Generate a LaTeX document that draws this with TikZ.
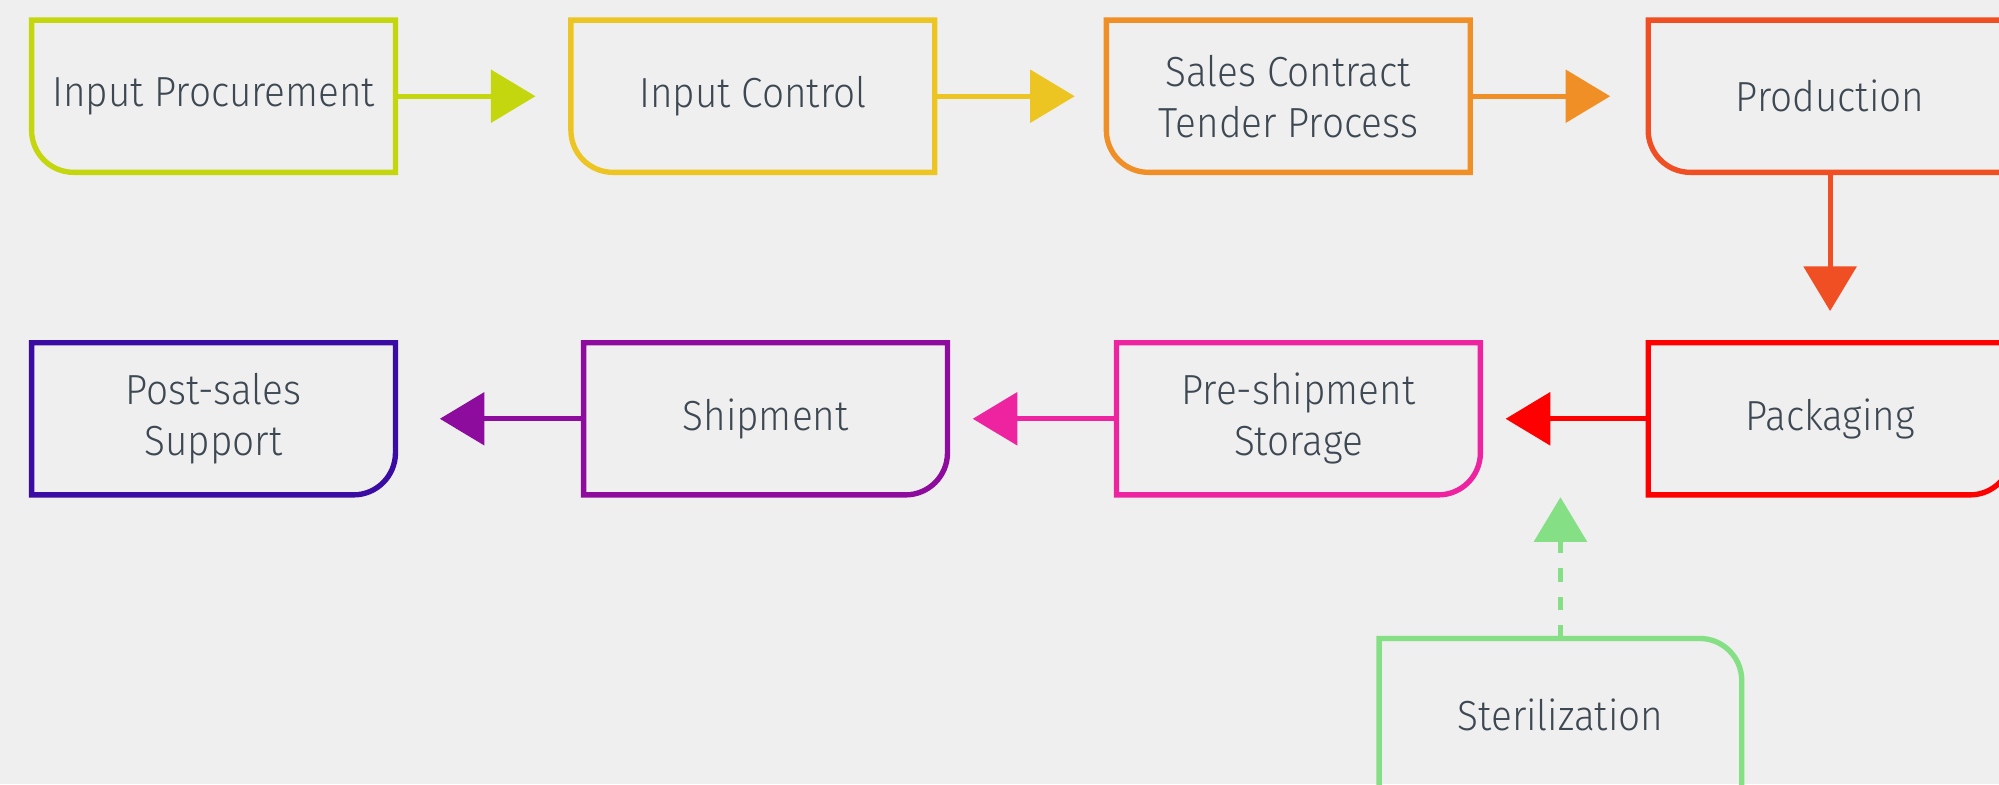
\documentclass[tikz,border=0pt]{standalone}
\usepackage{fontspec}
\setmainfont{Fira Sans}[UprightFont=* Light, FakeStretch=0.92]
\usetikzlibrary{arrows.meta}

\definecolor{paper}{HTML}{EFEFEF}
\definecolor{ink}{HTML}{3D4852}
\definecolor{cLime}{HTML}{C4D60E}
\definecolor{cYellow}{HTML}{EDC523}
\definecolor{cOrange}{HTML}{EF8F25}
\definecolor{cVermil}{HTML}{F04E23}
\definecolor{cRed}{HTML}{FF0000}
\definecolor{cPink}{HTML}{EE23A0}
\definecolor{cPurple}{HTML}{8D0C9E}
\definecolor{cIndigo}{HTML}{3A0CA3}
\definecolor{cGreen}{HTML}{85DF85}

\tikzset{
  stage/.style={minimum width=285pt, minimum height=119pt, inner sep=0pt,
    align=center, text=ink, font=\fontsize{33}{40}\selectfont},
  outline/.style={line width=4.2pt},
  flow/.style={line width=4pt, -{Triangle[length=35pt,width=41pt]}},
}

% outlines with a single rounded corner
\newcommand\boxBL[2]{\draw[outline,#2] (#1.south east) -- (#1.north east) -- (#1.north west)
  -- ([yshift=33pt]#1.south west) arc[start angle=180,end angle=270,radius=33pt] -- cycle;}
\newcommand\boxBR[2]{\draw[outline,#2] (#1.south west) -- (#1.north west) -- (#1.north east)
  -- ([yshift=33pt]#1.south east) arc[start angle=0,end angle=-90,radius=33pt] -- cycle;}
\newcommand\boxTR[2]{\draw[outline,#2] (#1.south east) -- ([yshift=-33pt]#1.north east)
  arc[start angle=0,end angle=90,radius=33pt] -- (#1.north west) -- (#1.south west);}

\begin{document}
\begin{tikzpicture}[x=1pt,y=1pt]
  \fill[paper] (0,0) rectangle (1568,615);
  \useasboundingbox (0,0) rectangle (1568,615);

  % upper row
  \node[stage] (proc) at (167.5,539.5) {Input Procurement};
  \node[stage] (ctrl) at (590.5,539.5) {Input Control};
  \node[stage] (sale) at (1010.5,539.5) {Sales Contract\\Tender Process};
  \node[stage] (prod) at (1435.5,539.5) {Production};
  % lower row
  \node[stage] (pack) at (1435.5,286.5) {Packaging};
  \node[stage] (pres) at (1018.5,286.5) {Pre-shipment\\Storage};
  \node[stage] (ship) at (600.5,286.5) {Shipment};
  \node[stage] (post) at (167.5,286.5) {Post-sales\\Support};
  % side input
  \node[stage, minimum width=284pt] (ster) at (1224,54.5) {Sterilization};

  \boxBL{proc}{cLime}
  \boxBL{ctrl}{cYellow}
  \boxBL{sale}{cOrange}
  \boxBL{prod}{cVermil}
  \boxBR{pack}{cRed}
  \boxBR{pres}{cPink}
  \boxBR{ship}{cPurple}
  \boxBR{post}{cIndigo}
  \boxTR{ster}{cGreen}

  % arrow tips
  \coordinate (t1) at (420,539.5);
  \coordinate (t2) at (843,539.5);
  \coordinate (t3) at (1263,539.5);
  \coordinate (t4) at (1435.5,371);
  \coordinate (t5) at (1181,286.5);
  \coordinate (t6) at (763,286.5);
  \coordinate (t7) at (345,286.5);
  \coordinate (t8) at (1224,225);

  \draw[flow,cLime] (proc.east) -- (t1);
  \draw[flow,cYellow] (ctrl.east) -- (t2);
  \draw[flow,cOrange] (sale.east) -- (t3);
  \draw[flow,cVermil] (prod.south) -- (t4);
  \draw[flow,cRed] (pack.west) -- (t5);
  \draw[flow,cPink] (pres.west) -- (t6);
  \draw[flow,cPurple] (ship.west) -- (t7);
  \draw[flow,cGreen,dash pattern=on 10.5pt off 11.8pt] (ster.north) -- (t8);
\end{tikzpicture}
\end{document}
